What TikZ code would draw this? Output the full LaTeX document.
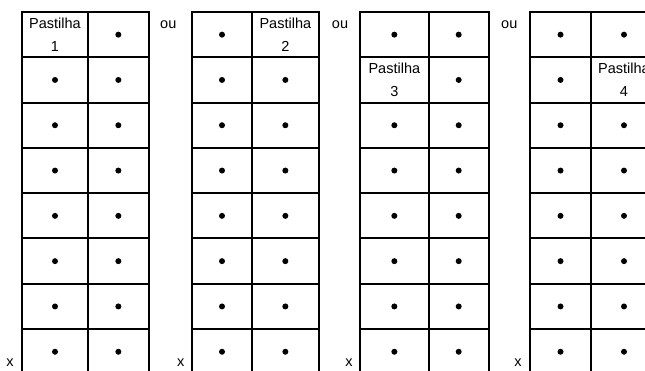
\documentclass[tikz,border=0pt]{standalone}
\usepackage{fontspec}
\setmainfont{Liberation Sans}
\usetikzlibrary{positioning}

\begin{document}
\begin{tikzpicture}[x=1pt, y=-1pt, line width=2pt,
    dot/.style={circle, fill=black, inner sep=0pt, minimum size=6pt},
    lbl/.style={font=\fontsize{14.5}{23.5}\selectfont, align=center, inner sep=0pt}]
    \useasboundingbox (0,0) rectangle (645,371);

    % Four grids: left, middle, right edge, number, column and row of the pastilha
    \foreach \l/\m/\r/\n/\pc/\pr in {22/88/148.7/1/1/1, 192/252/318.7/2/2/1,
                                     360/428.7/488.7/3/1/2, 530/591/657/4/2/2}{
        \pgfmathsetmacro{\xa}{(\l+\m)/2}
        \pgfmathsetmacro{\xb}{(\m+\r)/2}
        \foreach \row in {1,...,8}{
            \pgfmathsetmacro{\yt}{12+45.3*(\row-1)}
            \pgfmathsetmacro{\yc}{\yt+22.65}
            \draw (\l,\yt) rectangle (\m,\yt+45.3);
            \draw (\m,\yt) rectangle (\r,\yt+45.3);
            % dots, or the pastilha label in its cell
            \ifnum\row=\pr
                \ifnum\pc=1
                    \node[lbl] (p\n) at (\xa,\yc) {Pastilha\\\n};
                    \node[dot] (d\n-\row-2) at (\xb,\yc) {};
                \else
                    \node[dot] (d\n-\row-1) at (\xa,\yc) {};
                    \node[lbl] (p\n) at (\xb,\yc) {Pastilha\\\n};
                \fi
            \else
                \node[dot] (d\n-\row-1) at (\xa,\yc) {};
                \node[dot] (d\n-\row-2) at (\xb,\yc) {};
            \fi
        }
    }

    % "ou" between the grids
    \node[lbl] (ou1) at (168.3,25) {ou};
    \node[lbl] (ou2) at (340,25) {ou};
    \node[lbl] (ou3) at (509.3,25) {ou};

    % "x" at the foot of each grid
    \node[lbl] (x1) at (10,363) {x};
    \node[lbl] (x2) at (180.7,363) {x};
    \node[lbl] (x3) at (349,363) {x};
    \node[lbl] (x4) at (518,363) {x};
\end{tikzpicture}
\end{document}
